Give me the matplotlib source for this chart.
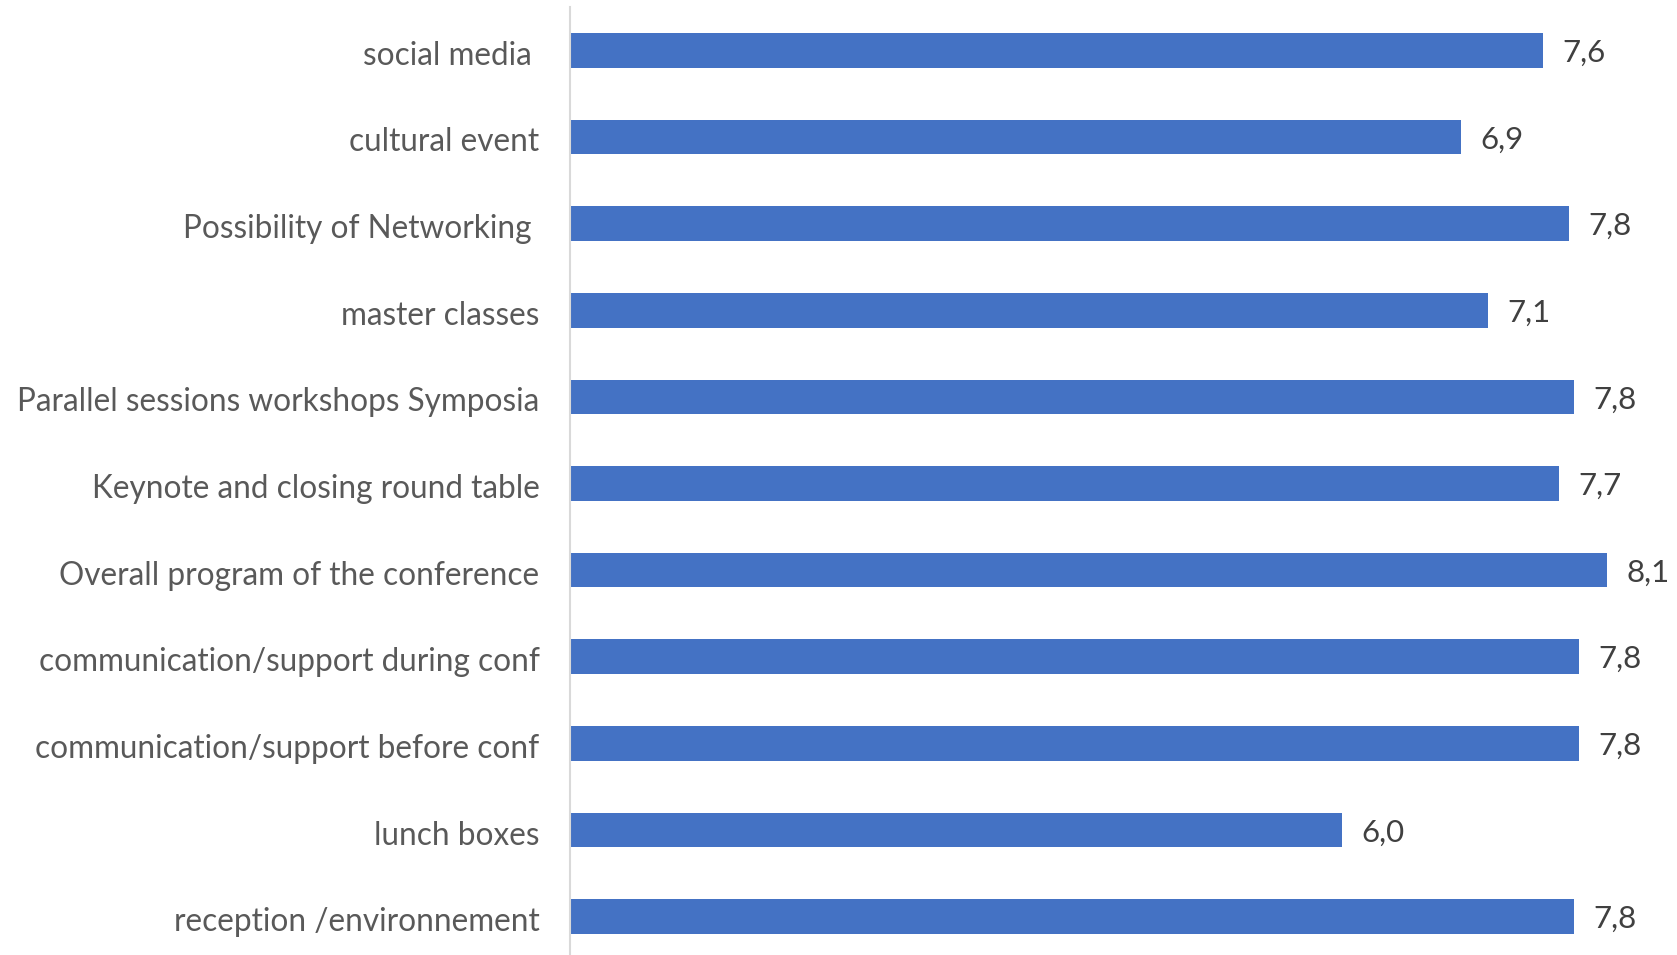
import matplotlib
matplotlib.use("Agg")
import matplotlib.pyplot as plt
import matplotlib.transforms as mtransforms
import numpy as np

# categories listed top to bottom as in the chart
categories = [
    "social media ",
    "cultural event",
    "Possibility of Networking ",
    "master classes",
    "Parallel sessions workshops Symposia",
    "Keynote and closing round table",
    "Overall program of the conference",
    "communication/support during conf",
    "communication/support before conf",
    "lunch boxes",
    "reception /environnement",
]
scores = [7.56, 6.92, 7.76, 7.13, 7.80, 7.68, 8.06, 7.84, 7.84, 6.00, 7.80]

BAR_COLOR = "#4472C4"
TEXT_COLOR = "#595959"
plt.rcParams["font.family"] = ["Lato", "DejaVu Sans"]

fig = plt.figure(figsize=(16.77, 9.55), dpi=100)
ax = fig.add_axes([570 / 1677, -5 / 955, 1 - 570 / 1677, 953 / 955])

y = np.arange(len(categories))
bars = ax.barh(y, scores, height=0.4, color=BAR_COLOR)
ax.set_ylim(len(categories) - 0.5, -0.5)
ax.set_xlim(0, 8.6)

# nudge text down a little so it sits like the Calibri labels
shift = mtransforms.ScaledTranslation(0, -2.5 / 100, fig.dpi_scale_trans)

for bar, v in zip(bars, scores):
    ax.text(bar.get_width() + 0.15, bar.get_y() + bar.get_height() / 2,
            f"{v:.1f}".replace(".", ","), va="center", ha="left",
            fontsize=22.5, color="#404040", transform=ax.transData + shift)

ax.set_yticks(y)
ax.set_yticklabels(categories, fontsize=22.7, color=TEXT_COLOR)
ax.tick_params(axis="y", length=0, pad=22)
for lab in ax.get_yticklabels():
    lab.set_transform(lab.get_transform() + shift)
ax.set_xticks([])
for side in ("top", "right", "bottom"):
    ax.spines[side].set_visible(False)
ax.spines["left"].set_color("#D9D9D9")
ax.spines["left"].set_linewidth(1.5)

fig.savefig("out.png", dpi=100)
